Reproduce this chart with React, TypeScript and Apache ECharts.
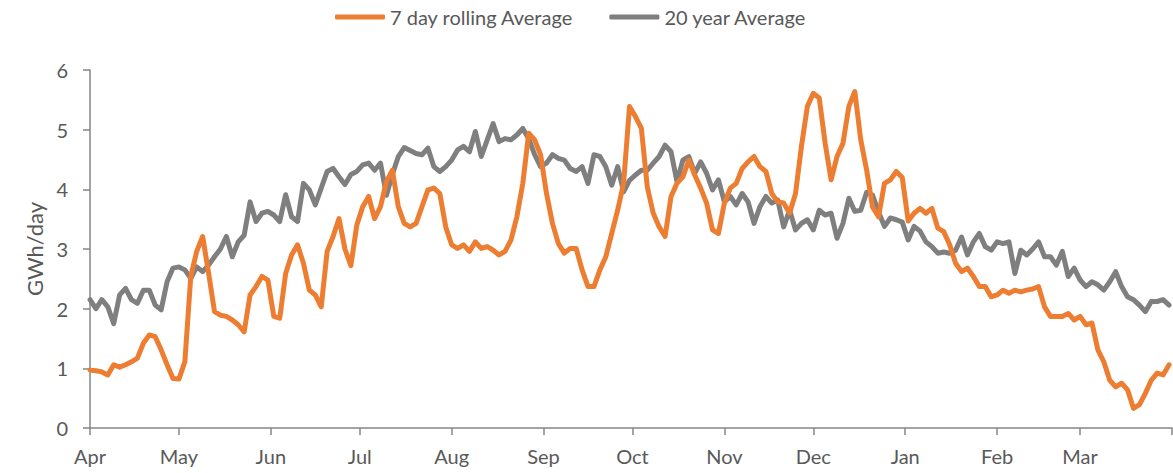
import React, { useEffect, useRef } from "react";
import * as echarts from "echarts";

// Sampled every 2 days from 1 Apr (day 0) to 31 Mar (day 364)
const SAMPLE_STEP_DAYS = 2;

const rolling7DayAvg = [
  0.97, 0.96, 0.94, 0.89, 1.06, 1.02, 1.06, 1.11, 1.17, 1.42, 1.56, 1.53, 1.31, 1.06, 0.83, 0.82, 1.11, 2.54, 2.96, 3.21, 2.6, 1.95, 1.89,
  1.87, 1.81, 1.73, 1.61, 2.23, 2.37, 2.54, 2.48, 1.87, 1.84, 2.59, 2.9, 3.07, 2.76, 2.31, 2.23, 2.03, 2.96, 3.21, 3.51, 3.0, 2.72, 3.4,
  3.71, 3.88, 3.51, 3.71, 4.13, 4.32, 3.71, 3.43, 3.37, 3.43, 3.71, 3.99, 4.02, 3.93, 3.37, 3.07, 3.01, 3.07, 2.96, 3.12, 3.01, 3.04, 2.98,
  2.9, 2.96, 3.15, 3.54, 4.1, 4.94, 4.83, 4.58, 3.93, 3.43, 3.09, 2.93, 3.01, 3.01, 2.65, 2.37, 2.37, 2.65, 2.87, 3.26, 3.65, 4.1, 5.39,
  5.22, 5.02, 4.04, 3.6, 3.37, 3.21, 3.88, 4.1, 4.21, 4.49, 4.24, 4.02, 3.77, 3.32, 3.26, 3.77, 4.02, 4.1, 4.35, 4.46, 4.55, 4.38, 4.3,
  3.93, 3.79, 3.77, 3.6, 3.93, 4.72, 5.39, 5.61, 5.53, 4.77, 4.16, 4.55, 4.77, 5.39, 5.64, 4.83, 4.32, 3.7, 3.54, 4.1, 4.16, 4.3,
  4.2, 3.47, 3.6, 3.68, 3.6, 3.68, 3.35, 3.29, 3.07, 2.76, 2.62, 2.68, 2.54, 2.37, 2.37, 2.2, 2.23, 2.31, 2.26, 2.31, 2.28, 2.31, 2.33,
  2.37, 2.03, 1.87, 1.87, 1.87, 1.92, 1.81, 1.87, 1.73, 1.76, 1.31, 1.11, 0.8, 0.69, 0.75, 0.64, 0.33, 0.39, 0.58, 0.8, 0.92, 0.89, 1.06,
];

const twentyYearAvg = [
  2.15, 2.0, 2.15, 2.03, 1.75, 2.23, 2.34, 2.15, 2.09, 2.31, 2.31, 2.06, 1.98, 2.45, 2.68, 2.7, 2.65, 2.51, 2.7, 2.62, 2.73, 2.87, 3.0,
  3.21, 2.87, 3.12, 3.23, 3.79, 3.46, 3.6, 3.63, 3.57, 3.46, 3.91, 3.54, 3.46, 4.1, 3.99, 3.74, 4.02, 4.3, 4.35, 4.21, 4.08, 4.25, 4.3,
  4.41, 4.44, 4.32, 4.44, 3.9, 4.25, 4.55, 4.7, 4.65, 4.6, 4.58, 4.69, 4.38, 4.3, 4.38, 4.49, 4.66, 4.72, 4.63, 4.97, 4.55, 4.83, 5.1,
  4.8, 4.85, 4.83, 4.91, 5.02, 4.85, 4.58, 4.38, 4.44, 4.58, 4.52, 4.49, 4.35, 4.3, 4.38, 4.1, 4.58, 4.55, 4.38, 4.07, 4.38, 3.96, 4.15,
  4.24, 4.32, 4.32, 4.44, 4.55, 4.74, 4.63, 4.13, 4.49, 4.55, 4.27, 4.46, 4.27, 3.99, 4.16, 3.79, 3.88, 3.74, 3.93, 3.79, 3.43, 3.71, 3.88,
  3.77, 3.82, 3.37, 3.65, 3.32, 3.43, 3.49, 3.32, 3.65, 3.57, 3.6, 3.18, 3.43, 3.85, 3.63, 3.65, 3.95, 3.9, 3.62, 3.38, 3.52, 3.49,
  3.45, 3.15, 3.38, 3.3, 3.12, 3.04, 2.93, 2.95, 2.93, 2.98, 3.2, 2.9, 3.12, 3.26, 3.04, 2.98, 3.12, 3.09, 3.12, 2.59, 2.98, 2.9, 3.0,
  3.12, 2.87, 2.87, 2.73, 2.96, 2.54, 2.68, 2.48, 2.37, 2.45, 2.4, 2.31, 2.45, 2.62, 2.37, 2.2, 2.15, 2.06, 1.95, 2.12, 2.12, 2.15, 2.06,
];

const monthLabels = ["Apr", "May", "Jun", "Jul", "Aug", "Sep", "Oct", "Nov", "Dec", "Jan", "Feb", "Mar"];
const monthStartDays = [0, 30, 61, 91, 122, 153, 183, 214, 244, 275, 306, 334];
const yearEndDay = 365;

const seriesNames = ["7 day rolling Average", "20 year Average"];
const FONT = "Lato, 'Liberation Sans', sans-serif";

export default function App() {
  const ref = useRef<HTMLDivElement>(null);

  useEffect(() => {
    if (!ref.current) return;
    const chart = echarts.init(ref.current, undefined, { renderer: "svg" });
    const toPairs = (arr: number[]) => arr.map((v, i) => [i * SAMPLE_STEP_DAYS, v]);
    const labelFor = (day: number) => {
      const idx = monthStartDays.indexOf(Math.round(day));
      return idx >= 0 ? monthLabels[idx] : "";
    };
    chart.setOption({
      animation: false,
      textStyle: { fontFamily: FONT },
      legend: {
        top: 2,
        left: 330,
        itemWidth: 50,
        itemHeight: 5,
        itemGap: 36,
        textStyle: { fontSize: 20, color: "#595959", fontFamily: FONT },
        data: [
          { name: seriesNames[0], icon: "roundRect" },
          { name: seriesNames[1], icon: "roundRect" },
        ],
      },
      grid: { left: 90, right: 1, top: 70, bottom: 45, containLabel: false },
      xAxis: {
        type: "value",
        min: 0,
        max: yearEndDay,
        splitLine: { show: false },
        axisLine: { show: true, lineStyle: { color: "#868686", width: 1.5 } },
        axisTick: {
          show: true,
          length: 7,
          lineStyle: { color: "#868686", width: 1.5 },
          customValues: [...monthStartDays, yearEndDay],
        },
        axisLabel: {
          customValues: monthStartDays,
          formatter: (v: number) => labelFor(v),
          fontSize: 20,
          color: "#595959",
          margin: 18,
          fontFamily: FONT,
        },
      },
      yAxis: {
        type: "value",
        min: 0,
        max: 6,
        interval: 1,
        name: "GWh/day",
        nameLocation: "middle",
        nameGap: 44,
        nameTextStyle: { fontSize: 22, color: "#595959", fontFamily: FONT },
        splitLine: { show: false },
        axisLine: { show: true, lineStyle: { color: "#868686", width: 1.5 } },
        axisTick: { show: true, length: 7, lineStyle: { color: "#868686", width: 1.5 } },
        axisLabel: { fontSize: 20, color: "#595959", margin: 22, fontFamily: FONT },
      },
      series: [
        {
          name: seriesNames[0],
          type: "line",
          data: toPairs(rolling7DayAvg),
          showSymbol: false,
          symbol: "none",
          lineStyle: { color: "#ED7D31", width: 5, join: "round", cap: "round" },
          itemStyle: { color: "#ED7D31" },
          z: 3,
        },
        {
          name: seriesNames[1],
          type: "line",
          data: toPairs(twentyYearAvg),
          showSymbol: false,
          symbol: "none",
          lineStyle: { color: "#7F7F7F", width: 5, join: "round", cap: "round" },
          itemStyle: { color: "#7F7F7F" },
          z: 2,
        },
      ],
    });
    return () => chart.dispose();
  }, []);

  return (
    <div
      ref={ref}
      style={{ position: "absolute", left: 0, top: 0, width: 1173, height: 473 }}
    />
  );
}
